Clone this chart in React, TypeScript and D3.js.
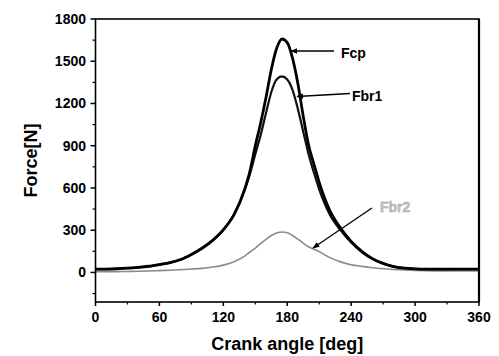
import React from "react";
import * as d3 from "d3";

const angles = [0, 10, 20, 30, 40, 50, 60, 70, 80, 90, 100, 110, 120, 130, 140, 145, 150, 155, 160, 165, 170, 175, 180, 185, 190, 195, 200, 205, 210, 220, 230, 240, 250, 260, 270, 280, 290, 300, 310, 320, 330, 340, 350, 360];
const fcp = [24, 24, 26, 30, 36, 44, 56, 70, 92, 128, 172, 228, 303, 410, 590, 720, 900, 1060, 1240, 1440, 1590, 1658, 1632, 1520, 1340, 1110, 905, 770, 640, 440, 315, 220, 150, 98, 64, 42, 30, 25, 23, 23, 23, 23, 23, 23];
const fbr1 = [24, 24, 26, 30, 36, 44, 56, 70, 92, 128, 172, 228, 303, 410, 585, 700, 840, 975, 1130, 1280, 1370, 1392, 1370, 1295, 1160, 1000, 840, 710, 590, 410, 300, 212, 145, 95, 62, 41, 30, 25, 23, 23, 23, 23, 23, 23];
const fbr2 = [6, 6, 6, 7, 8, 10, 13, 16, 20, 24, 29, 38, 52, 76, 116, 145, 172, 205, 235, 262, 280, 287, 282, 262, 236, 208, 182, 165, 148, 105, 75, 55, 43, 33, 26, 21, 17, 14, 12, 11, 11, 10, 10, 10];

const xTicks = [0, 60, 120, 180, 240, 300, 360];
const xMinor = [30, 90, 150, 210, 270, 330];
const yTicks = [0, 300, 600, 900, 1200, 1500, 1800];
const yMinor = [-150, 150, 450, 750, 1050, 1350, 1650];

const seriesLabels = ["Fcp", "Fbr1", "Fbr2"];

export default function App() {
  const left = 95.5, right = 479, top = 19, bottom = 302;
  const x = d3.scaleLinear().domain([0, 360]).range([left, right]);
  const y = d3.scaleLinear().domain([-210, 1800]).range([bottom, top]);
  const line = (vals: number[]) =>
    d3.line<number>().x((_, i) => x(angles[i])).y((v) => y(v)).curve(d3.curveMonotoneX)(vals) || "";

  const font = "'Liberation Sans', Arial, sans-serif";

  return (
    <svg width={499} height={356} style={{ position: "absolute", left: 0, top: 0, background: "#fff" }}>
      <defs>
        <marker id="ah" viewBox="0 0 10 10" refX="9" refY="5" markerWidth="7" markerHeight="7" orient="auto-start-reverse" markerUnits="userSpaceOnUse">
          <path d="M0,1 L10,5 L0,9 z" fill="#000" />
        </marker>
      </defs>
      {/* curves */}
      <path d={line(fbr2)} fill="none" stroke="#8a8a8a" strokeWidth={1.6} />
      <path d={line(fbr1)} fill="none" stroke="#111" strokeWidth={2.2} />
      <path d={line(fcp)} fill="none" stroke="#000" strokeWidth={2.8} />

      {/* frame */}
      <rect x={left} y={top} width={right - left} height={bottom - top} fill="none" stroke="#000" strokeWidth={1.6} />
      <line x1={right} x2={right} y1={top} y2={bottom} stroke="#000" strokeWidth={2.2} />

      {/* x ticks */}
      {xTicks.map((t) => (
        <g key={"xt" + t}>
          <line x1={x(t)} x2={x(t)} y1={bottom} y2={bottom + 4} stroke="#000" strokeWidth={1.5} />
          <text x={x(t)} y={322} textAnchor="middle" fontFamily={font} fontWeight="bold" fontSize={14}>{t}</text>
        </g>
      ))}
      {xMinor.map((t) => (
        <line key={"xm" + t} x1={x(t)} x2={x(t)} y1={bottom} y2={bottom + 2.5} stroke="#000" strokeWidth={1.2} />
      ))}
      {/* y ticks */}
      {yTicks.map((t) => (
        <g key={"yt" + t}>
          <line x1={left - 5} x2={left} y1={y(t)} y2={y(t)} stroke="#000" strokeWidth={1.5} />
          <text x={86} y={y(t) + 5} textAnchor="end" fontFamily={font} fontWeight="bold" fontSize={14}>{t}</text>
        </g>
      ))}
      {yMinor.map((t) => (
        <line key={"ym" + t} x1={left - 3} x2={left} y1={y(t)} y2={y(t)} stroke="#000" strokeWidth={1.2} />
      ))}

      {/* axis titles */}
      <text x={(left + right) / 2} y={350} textAnchor="middle" fontFamily={font} fontWeight="bold" fontSize={18}>Crank angle [deg]</text>
      <text transform={`translate(37,${(top + bottom) / 2}) rotate(-90)`} textAnchor="middle" fontFamily={font} fontWeight="bold" fontSize={18}>Force[N]</text>

      {/* annotations */}
      <line x1={334} y1={51} x2={291} y2={51} stroke="#000" strokeWidth={1.3} markerEnd="url(#ah)" />
      <text x={341} y={58} fontFamily={font} fontWeight="bold" fontSize={14}>{seriesLabels[0]}</text>
      <line x1={350} y1={93.5} x2={297} y2={96.5} stroke="#000" strokeWidth={1.3} markerEnd="url(#ah)" />
      <text x={352} y={101} fontFamily={font} fontWeight="bold" fontSize={14}>{seriesLabels[1]}</text>
      <line x1={372} y1={208} x2={313} y2={248} stroke="#000" strokeWidth={1.3} markerEnd="url(#ah)" />
      <text x={380} y={212} fontFamily={font} fontWeight="bold" fontSize={14} fill="#c4c4c4" stroke="#9a9a9a" strokeWidth={0.4}>{seriesLabels[2]}</text>
    </svg>
  );
}
